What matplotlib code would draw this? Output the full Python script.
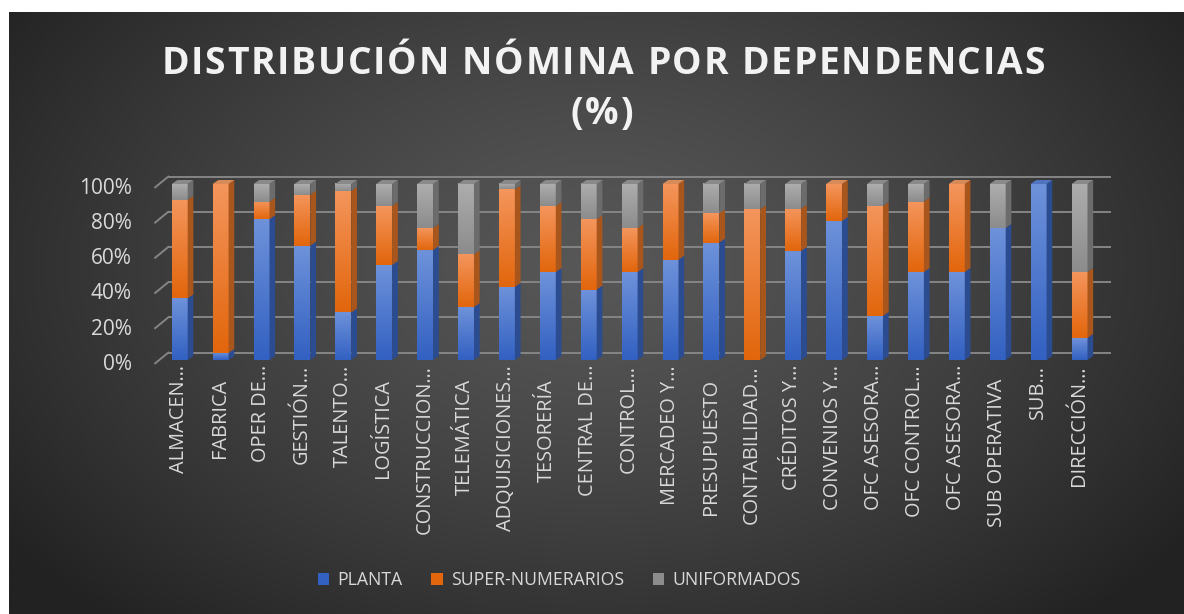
import numpy as np
import matplotlib
matplotlib.use("Agg")
import matplotlib.pyplot as plt
from matplotlib.colors import LinearSegmentedColormap
from matplotlib.patches import Patch

# data (% of payroll per dependency)
dependencias = ["ALMACEN…", "FABRICA", "OPER DE…", "GESTIÓN…", "TALENTO…", "LOGÍSTICA",
                "CONSTRUCCION…", "TELEMÁTICA", "ADQUISICIONES…", "TESORERÍA", "CENTRAL DE…",
                "CONTROL…", "MERCADEO Y…", "PRESUPUESTO", "CONTABILIDAD…", "CRÉDITOS Y…",
                "CONVENIOS Y…", "OFC ASESORA…", "OFC CONTROL…", "OFC ASESORA…", "SUB OPERATIVA",
                "SUB…", "DIRECCIÓN…"]
planta = [35, 4, 80, 65, 27, 54, 62.5, 30, 41.5, 50, 40, 50, 57, 66.7, 0, 62, 79, 25, 50, 50, 75, 100, 12.5]
super_num = [56, 96, 10, 29, 69, 33.5, 12.5, 30, 55.5, 37.5, 40, 25, 43, 16.7, 85.7, 24, 21, 62.5, 40, 50, 0, 0, 37.5]
uniformados = [9, 0, 10, 6, 4, 12.5, 25, 40, 3, 12.5, 20, 25, 0, 16.6, 14.3, 14, 0, 12.5, 10, 0, 25, 0, 50]
series_names = ["PLANTA", "SUPER-NUMERARIOS", "UNIFORMADOS"]
y_ticks = [0, 20, 40, 60, 80, 100]

W, H = 1184, 614
FONT = "Open Sans"
TXT = "#d9d9d9"

# colours per series: (dark bottom, light top, side face, top face)
styles = [
    ("#3361c2", "#6e92da", "#2b4c91", "#5074c0"),
    ("#e2660c", "#f4955c", "#a9561d", "#d88a58"),
    ("#8c8c8c", "#adadad", "#6c6c6c", "#8a8a8a"),
]

fig = plt.figure(figsize=(W / 100, H / 100), dpi=100, facecolor="white")

# radial background
bg = fig.add_axes([9 / W, 0, (W - 9) / W, (H - 12) / H])
gx, gy = np.meshgrid(np.linspace(0, 1, 400), np.linspace(0, 1, 220))
r = np.sqrt(((gx - 0.5) / 0.62) ** 2 + ((gy - 0.42) / 0.8) ** 2)
r = np.clip(r, 0, 1) ** 1.3
c0, c1 = 0x57 / 255, 0x22 / 255
shade = c0 + (c1 - c0) * r
bg.imshow(np.dstack([shade] * 3), extent=(0, 1, 0, 1), aspect="auto", origin="upper",
          interpolation="bilinear")
bg.set_axis_off()

# main axes laid out in pixels
x0px, x1px, ytop, ybot = 150, 1115, 170, 370
cx0, step = 179.7, 40.9          # first bar centre, spacing in px
y0px, pp = 360, 1.76             # 0 % position, px per %
ax = fig.add_axes([x0px / W, (H - ybot) / H, (x1px - x0px) / W, (ybot - ytop) / H])
ax.set_axis_off()

# gridlines on back wall + slanted side lines
xb0, xb1, xf = -0.28, 22.77, -0.60
for v in y_ticks:
    ax.plot([xb0, xb1], [v + 4.2, v + 4.2], color="#858585", lw=1.4, zorder=1,
            solid_capstyle="butt")
    ax.plot([xf, xb0], [v - 1.9, v + 4.2], color="#858585", lw=1.4, zorder=1)
    ax.text(-1.17, v - 2.4, f"{v}%", ha="right", va="center", fontsize=15,
            color=TXT, family=FONT, clip_on=False)

x = np.arange(len(dependencias))
bw = 0.39
dx, dy = 0.139, 2.27
bottom = np.zeros(len(x))
vals = [planta, super_num, uniformados]
tops = np.array(planta) + np.array(super_num) + np.array(uniformados)
for k, data in enumerate(vals):
    dark, light, side, topc = styles[k]
    cmap = LinearSegmentedColormap.from_list(f"g{k}", [dark, light])
    bars = ax.bar(x, data, bw, bottom=bottom, color=dark, zorder=2, linewidth=0)
    for i, b in enumerate(bars):
        h = b.get_height()
        if h <= 0:
            continue
        xl, yb = b.get_x(), b.get_y()
        xr, yt = xl + b.get_width(), yb + h
        ax.imshow(np.linspace(1, 0, 64).reshape(-1, 1), extent=(xl, xr, yb, yt), cmap=cmap,
                  aspect="auto", interpolation="bilinear", zorder=3)
        ax.fill([xr, xr + dx, xr + dx, xr], [yb, yb + dy, yt + dy, yt], color=side,
                lw=0, zorder=3)
        if abs(yt - tops[i]) < 0.01:
            ax.fill([xl, xl + dx, xr + dx, xr], [yt, yt + dy, yt + dy, yt], color=topc,
                    lw=0, zorder=3)
    bottom += np.array(data)

ax.set_xlim((x0px - cx0) / step, (x1px - cx0) / step)
ax.set_ylim((y0px - ybot) / pp, (y0px - ytop) / pp)

# category labels
for i, lab in enumerate(dependencias):
    ypx = 365 if lab.endswith("…") else 379
    ax.text(i - 0.02, (y0px - ypx) / pp, lab, rotation=90, ha="center", va="top",
            fontsize=14.3, color=TXT, family=FONT, clip_on=False)

# title with letter spacing
renderer = fig.canvas.get_renderer()


def text_w(s, size):
    t = fig.text(0, 0, s, fontsize=size, family=FONT, fontweight="bold")
    w = t.get_window_extent(renderer).width
    t.remove()
    return w


def spaced(s, cx, base_y, size, track):
    bar_w = text_w("|", size)
    pos = [text_w(s[:i] + "|", size) - bar_w for i in range(len(s))]
    total = text_w(s, size) + track * (len(s) - 1)
    left = cx - total / 2
    for i, ch in enumerate(s):
        if ch == " ":
            continue
        fig.text((left + pos[i] + track * i) / W, 1 - base_y / H, ch, fontsize=size,
                 family=FONT, fontweight="bold", color="#f2f2f2", va="baseline")


spaced("DISTRIBUCIÓN NÓMINA POR DEPENDENCIAS", 603, 73.5, 26.8, 1.75)
spaced("(%)", 602, 124.5, 26.8, 1.75)

handles = [Patch(facecolor=s[0], edgecolor="none") for s in styles]
fig.legend(handles, series_names, loc="center", bbox_to_anchor=(559 / W, 1 - 580 / H),
           ncol=3, frameon=False, labelcolor=TXT, handlelength=0.65,
           handleheight=0.65, handletextpad=0.45, columnspacing=1.65,
           prop={"family": FONT, "size": 12.7})

fig.savefig("out.png", dpi=100, facecolor=fig.get_facecolor())
